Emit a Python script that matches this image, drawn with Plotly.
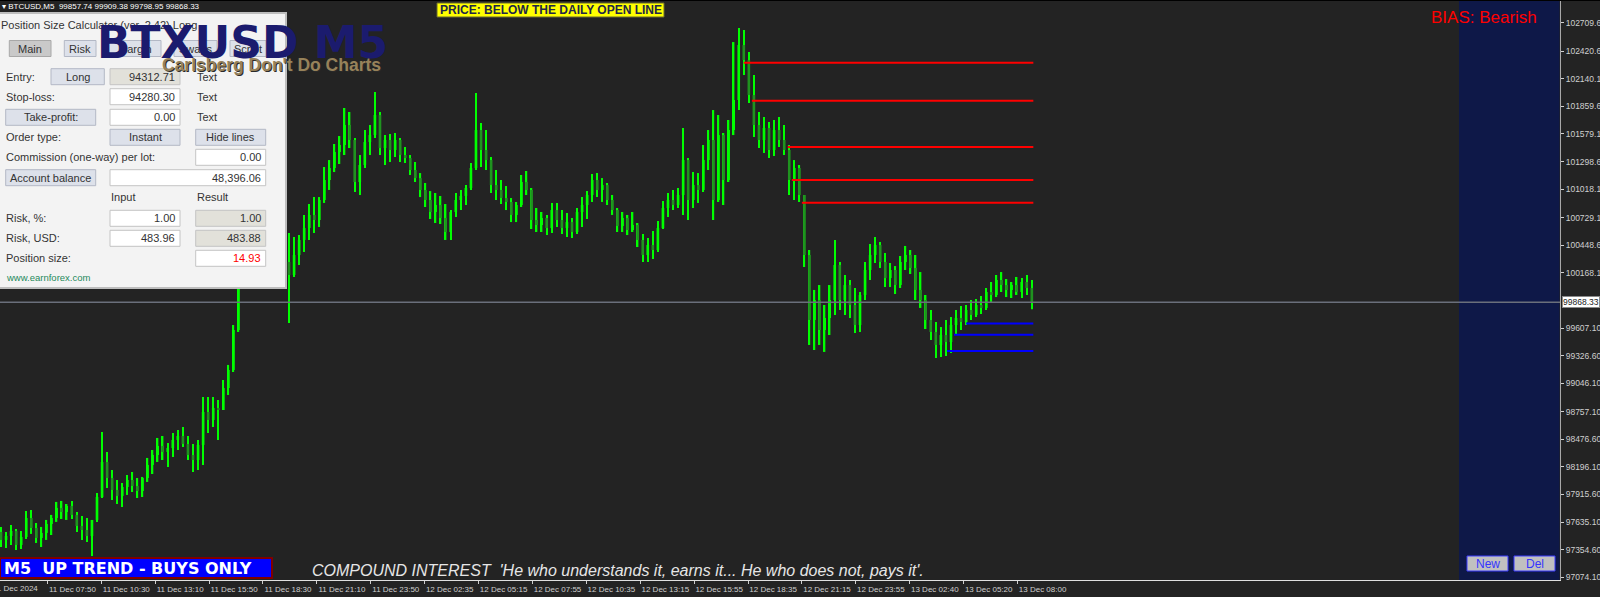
import plotly.graph_objects as go

# ------------------------------------------------------------------ data
# 15-minute OHLC bars of BTCUSD (11 Dec 05:30 -> 13 Dec 08:30)
open_ = [97535, 97454, 97494, 97545, 97403, 97484, 97677, 97575, 97474, 97525,
         97616, 97677, 97779, 97738, 97799, 97708, 97596, 97555, 97494, 97657,
         97890, 98246, 98083, 97962, 97901, 97992, 98063, 98002, 97951, 98083,
         98216, 98317, 98409, 98348, 98388, 98470, 98510, 98429, 98317, 98266,
         98419, 98754, 98673, 98795, 98774, 98998, 99181, 99587, 100044, 100278,
         100420, 100502, 100583, 100380, 100502, 100522, 100319, 100278, 100146, 100349,
         100502, 100623, 100756, 100705, 100908, 101111, 101233, 101396, 101467, 101670,
         101518, 101091, 101264, 101497, 101568, 101772, 101436, 101518, 101416, 101518,
         101365, 101335, 101213, 101131, 101010, 100908, 100786, 100857, 100725, 100583,
         100786, 100908, 100949, 101030, 101233, 101619, 101416, 101314, 101060, 101010,
         100928, 100888, 100756, 100857, 101091, 101010, 100705, 100654, 100725, 100623,
         100806, 100705, 100623, 100684, 100583, 100786, 100857, 100959, 101111, 101010,
         101060, 100908, 100806, 100644, 100725, 100603, 100654, 100502, 100349, 100451,
         100400, 100623, 100827, 100908, 100857, 100959, 101314, 100908, 101060, 101010,
         101314, 101518, 100908, 101568, 101111, 101619, 101924, 102483, 102330, 101975,
         101670, 101518, 101640, 101416, 101619, 101518, 101416, 101111, 101233, 100959,
         100349, 99689, 99892, 99587, 99709, 99892, 100248, 99892, 100044, 99841,
         99638, 99943, 100197, 100349, 100451, 100278, 100115, 100197, 100044, 100278,
         100349, 100217, 99994, 99892, 99689, 99567, 99435, 99536, 99465, 99638,
         99709, 99668, 99790, 99740, 99841, 99811, 99973, 99943, 100095, 100044,
         99994, 100044, 99973, 100075, 100014]
high = [97586, 97535, 97606, 97565, 97545, 97748, 97758, 97626, 97586, 97657,
        97708, 97840, 97850, 97819, 97850, 97738, 97697, 97677, 97606, 97931,
        98551, 98348, 98165, 98063, 98033, 98114, 98144, 98083, 98094, 98287,
        98368, 98490, 98510, 98439, 98541, 98571, 98602, 98510, 98429, 98470,
        98906, 98906, 98906, 98876, 99079, 99232, 99638, 100065, 100400, 100502,
        100623, 100654, 100603, 100603, 100684, 100583, 100552, 100573, 100532, 100552,
        100756, 100867, 100938, 100938, 101243, 101314, 101477, 101558, 101843, 101802,
        101538, 101365, 101619, 101670, 102005, 101802, 101568, 101579, 101589, 101538,
        101447, 101365, 101294, 101182, 101081, 100999, 100979, 100949, 100867, 100806,
        100979, 101010, 101060, 101284, 101995, 101690, 101619, 101345, 101213, 101111,
        101050, 100928, 100888, 101162, 101203, 101030, 100827, 100786, 100756, 100878,
        100878, 100806, 100776, 100725, 100827, 100938, 100999, 101172, 101182, 101131,
        101081, 100959, 100827, 100786, 100756, 100786, 100674, 100563, 100522, 100593,
        100695, 100898, 100979, 101010, 101030, 101640, 101335, 101192, 101182, 101467,
        101619, 101822, 101772, 101589, 101721, 102513, 102655, 102635, 102412, 102178,
        101802, 101751, 101700, 101721, 101751, 101670, 101467, 101314, 101264, 100959,
        100400, 99994, 100044, 99841, 100044, 100502, 100278, 100146, 100095, 100014,
        99973, 100278, 100461, 100532, 100481, 100369, 100268, 100237, 100339, 100441,
        100400, 100349, 100176, 99943, 99790, 99668, 99618, 99689, 99719, 99790,
        99831, 99841, 99892, 99902, 99933, 100014, 100075, 100146, 100176, 100105,
        100075, 100126, 100115, 100146, 100095]
low = [97382, 97372, 97403, 97352, 97362, 97464, 97515, 97423, 97382, 97454,
       97504, 97637, 97667, 97657, 97667, 97535, 97454, 97433, 97291, 97637,
       97880, 97982, 97860, 97819, 97789, 97911, 97941, 97880, 97890, 98043,
       98124, 98246, 98266, 98195, 98297, 98368, 98398, 98266, 98144, 98165,
       98216, 98541, 98602, 98470, 98774, 98927, 99160, 99567, 100024, 100176,
       100298, 100349, 100248, 100278, 100349, 100217, 100095, 99658, 100126, 100248,
       100380, 100502, 100573, 100634, 100878, 101010, 101192, 101274, 101365, 101436,
       100989, 100959, 101233, 101365, 101538, 101365, 101264, 101294, 101345, 101294,
       101284, 101162, 101091, 100938, 100837, 100715, 100674, 100664, 100502, 100502,
       100735, 100806, 100857, 101010, 101213, 101243, 101213, 100979, 100908, 100867,
       100806, 100684, 100684, 100837, 100959, 100613, 100583, 100583, 100552, 100573,
       100634, 100563, 100532, 100522, 100563, 100634, 100715, 100888, 100938, 100888,
       100857, 100756, 100583, 100583, 100552, 100583, 100430, 100278, 100278, 100309,
       100380, 100613, 100735, 100806, 100827, 100756, 100705, 100827, 100878, 100989,
       101213, 100705, 100888, 100857, 101091, 101568, 101822, 102178, 101893, 101548,
       101436, 101386, 101335, 101355, 101447, 101365, 100959, 100908, 100888, 100227,
       99435, 99384, 99435, 99364, 99536, 99740, 99790, 99740, 99709, 99557,
       99567, 99892, 100095, 100268, 100217, 100024, 100024, 99953, 100014, 100197,
       100156, 99892, 99811, 99597, 99486, 99303, 99313, 99323, 99353, 99547,
       99587, 99638, 99689, 99719, 99750, 99790, 99872, 99922, 99973, 99922,
       99912, 99943, 99912, 99943, 99799]
close = [97454, 97494, 97545, 97403, 97484, 97677, 97575, 97474, 97525, 97616,
         97677, 97779, 97738, 97799, 97708, 97596, 97555, 97494, 97657, 97890,
         98246, 98083, 97962, 97901, 97992, 98063, 98002, 97951, 98083, 98216,
         98317, 98409, 98348, 98388, 98470, 98510, 98429, 98317, 98266, 98419,
         98754, 98673, 98795, 98774, 98998, 99181, 99587, 100044, 100278, 100420,
         100502, 100583, 100380, 100502, 100522, 100319, 100278, 100146, 100349, 100502,
         100623, 100756, 100705, 100908, 101111, 101233, 101396, 101467, 101670, 101518,
         101091, 101264, 101497, 101568, 101772, 101436, 101518, 101416, 101518, 101365,
         101335, 101213, 101131, 101010, 100908, 100786, 100857, 100725, 100583, 100786,
         100908, 100949, 101030, 101233, 101619, 101416, 101314, 101060, 101010, 100928,
         100888, 100756, 100857, 101091, 101010, 100705, 100654, 100725, 100623, 100806,
         100705, 100623, 100684, 100583, 100786, 100857, 100959, 101111, 101010, 101060,
         100908, 100806, 100644, 100725, 100603, 100654, 100502, 100349, 100451, 100400,
         100623, 100827, 100908, 100857, 100959, 101314, 100908, 101060, 101010, 101314,
         101518, 100908, 101568, 101111, 101619, 101924, 102483, 102330, 101975, 101670,
         101518, 101640, 101416, 101619, 101518, 101416, 101111, 101233, 100959, 100349,
         99689, 99892, 99587, 99709, 99892, 100248, 99892, 100044, 99841, 99638,
         99943, 100197, 100349, 100451, 100278, 100115, 100197, 100044, 100278, 100349,
         100217, 99994, 99892, 99689, 99567, 99435, 99536, 99465, 99638, 99709,
         99668, 99790, 99740, 99841, 99811, 99973, 99943, 100095, 100044, 99994,
         100044, 99973, 100075, 100014, 99868.33]

time_labels = ["11 Dec 07:50", "11 Dec 10:30", "11 Dec 13:10", "11 Dec 15:50", "11 Dec 18:30",
               "11 Dec 21:10", "11 Dec 23:50", "12 Dec 02:35", "12 Dec 05:15", "12 Dec 07:55",
               "12 Dec 10:35", "12 Dec 13:15", "12 Dec 15:55", "12 Dec 18:35", "12 Dec 21:15",
               "12 Dec 23:55", "13 Dec 02:40", "13 Dec 05:20", "13 Dec 08:00"]
first_label = "11 Dec 2024"
price_ticks = [102709.6, 102420.6, 102140.1, 101859.6, 101579.1, 101298.6, 101018.1, 100729.1,
               100448.6, 100168.1, 99607.1, 99326.6, 99046.1, 98757.1, 98476.6, 98196.1,
               97915.6, 97635.1, 97354.6, 97074.1]
last_price = 99868.33
resist_levels = [102303, 101917, 101446, 101111, 100881]
resist_from_bar = [147.0, 148.6, 155.7, 156.5, 158.5]
support_levels = [99653, 99539, 99374]
support_from_bar = [191.0, 188.6, 187.2]
levels_to_bar = 204.3

# ------------------------------------------------------------------ geometry
W, H = 1600, 597
PW, PH = 1560, 580            # plot area in pixels
BAR_PX = 5.053                # pixels per bar
X0 = -1 / BAR_PX
XR = [X0, X0 + PW / BAR_PX]
YR = [97046.7, 102940.3]
TICK0, TICK_STEP = 9.18, 10.667
FONT = "Liberation Sans, Arial, sans-serif"
BG = "#232323"
LIME = "#00ff00"
DARK = "#1f931f"


def px(x):
    return x / PW


def py(y):
    return 1 - y / PH


idx = list(range(len(close)))
fig = go.Figure()
fig.add_trace(go.Bar(x=idx, base=low, y=[h - l for h, l in zip(high, low)], width=0.28,
                     marker=dict(color=LIME, line=dict(width=0)), hoverinfo="skip"))
fig.add_trace(go.Bar(x=idx, base=[min(o, c) for o, c in zip(open_, close)],
                     y=[max(abs(c - o), 10) for o, c in zip(open_, close)], width=0.52,
                     marker=dict(color=[LIME if c >= o else DARK for o, c in zip(open_, close)],
                                 line=dict(width=0)), hoverinfo="skip"))
for lvl, b in zip(resist_levels, resist_from_bar):
    fig.add_trace(go.Scatter(x=[b, levels_to_bar], y=[lvl, lvl], mode="lines",
                             line=dict(color="#ff0000", width=2), hoverinfo="skip"))
for lvl, b in zip(support_levels, support_from_bar):
    fig.add_trace(go.Scatter(x=[b, levels_to_bar], y=[lvl, lvl], mode="lines",
                             line=dict(color="#0000ff", width=2), hoverinfo="skip"))

shapes = []
annots = []


def rect(x0, y0, x1, y1, fill, line=None, lw=1, layer="above"):
    shapes.append(dict(type="rect", xref="paper", yref="paper", x0=px(x0), x1=px(x1),
                       y0=py(y1), y1=py(y0), fillcolor=fill, layer=layer,
                       line=dict(color=line or fill, width=lw if line else 0)))


def text(x, y, s, size=11, color="#333333", anchor="left", family=FONT, bg=None, border=None):
    a = dict(x=px(x), y=py(y), xref="paper", yref="paper", text=s, showarrow=False,
             xanchor=anchor, yanchor="middle", font=dict(size=size, color=color, family=family),
             borderpad=0)
    if bg:
        a["bgcolor"] = bg
    if border:
        a["bordercolor"] = border
        a["borderwidth"] = 1
    annots.append(a)


# right-side navy panel + price line
rect(1459, 0, 1559.5, 580, "#0e1848", layer="below")
shapes.append(dict(type="line", xref="paper", yref="y", x0=0, x1=1, y0=last_price, y1=last_price,
                   line=dict(color="#6a6f7b", width=1.5), layer="above"))
shapes.append(dict(type="line", xref="paper", yref="paper", x0=0, x1=1.03, y0=1, y1=1,
                   line=dict(color="#000000", width=2), layer="above"))

# ---- Position size calculator panel
rect(-3, 13, 286, 288, "#f3f3f3", "#bdbdbd", 2)
BTN, BTN_L = "#dde1ea", "#b3b8c5"
GRAY, WHITE, FL = "#e2e1da", "#ffffff", "#c4c4c4"
tabs = [(9.3, 51, "Main"), (64.3, 96, "Risk"), (108, 161, "Margin"), (174, 217, "Swaps"), (230, 266, "Script")]
for i, (a, b, s) in enumerate(tabs):
    rect(a, 40.5, b, 56.5, "#c9c9c9" if i == 0 else BTN, "#a8a8a8" if i == 0 else BTN_L)
    text((a + b) / 2, 48.5, s, anchor="center")
buttons = [(51, 104.3, 76.7, "Long"), (5.7, 95.7, 117.3, "Take-profit:"), (110, 180, 137.3, "Instant"),
           (195.7, 265.7, 137.3, "Hide lines"), (5.7, 95.7, 177.7, "Account balance")]
for a, b, yc, s in buttons:
    rect(a, yc - 8, b, yc + 8, BTN, BTN_L)
    text((a + b) / 2, yc, s, anchor="center")
fields = [(110, 180, 76.7, "94312.71", GRAY, "#333333"), (110, 180, 96.7, "94280.30", WHITE, "#333333"),
          (110, 180, 117.3, "0.00", WHITE, "#333333"), (195.7, 265.7, 157.3, "0.00", WHITE, "#333333"),
          (110, 265.7, 177.7, "48,396.06", WHITE, "#333333"), (110, 180, 218.3, "1.00", WHITE, "#333333"),
          (195.7, 265.7, 218.3, "1.00", GRAY, "#333333"), (110, 180, 238.3, "483.96", WHITE, "#333333"),
          (195.7, 265.7, 238.3, "483.88", GRAY, "#333333"), (195.7, 265.7, 258.3, "14.93", WHITE, "#ff0000")]
for a, b, yc, s, f, c in fields:
    rect(a, yc - 8, b, yc + 8, f, FL)
    text(b - 4, yc, s, color=c, anchor="right")
labels = [(5, 76.7, "Entry:"), (5, 96.7, "Stop-loss:"), (5, 137.3, "Order type:"),
          (5, 157.3, "Commission (one-way) per lot:"), (110, 197.3, "Input"), (195.7, 197.3, "Result"),
          (5, 218.3, "Risk, %:"), (5, 238.3, "Risk, USD:"), (5, 258.3, "Position size:"),
          (195.7, 76.7, "Text"), (195.7, 96.7, "Text"), (195.7, 117.3, "Text")]
for x, y, s in labels:
    text(x, y, s)
text(0, 24.5, "Position Size Calculator (ver. 2.42) Long", size=11)
text(5, 277.3, "www.earnforex.com", size=9.5, color="#1f8a5c")

# ---- overlay titles
text(242, 43, "<b>BTXUSD M5</b>", size=44, color="#1b1b6e", anchor="center", family="DejaVu Sans")
text(272.5, 66.5, "<b>Carlsberg Don't Do Charts</b>", size=17.5, color="#2a2a2a", anchor="center")
text(271, 65, "<b>Carlsberg Don't Do Charts</b>", size=17.5, color="#97825a", anchor="center")
text(1, 6, "\u25be BTCUSD,M5\u00a0 99857.74 99909.38 99798.95 99868.33", size=8, color="#ffffff")
rect(437, 3, 664, 17, "#ffff00", "#6b6b30")
text(550.5, 10.3, "<b>PRICE: BELOW THE DAILY OPEN LINE</b>", size=12, color="#22264a", anchor="center")
text(1483.5, 18, "BIAS: Bearish", size=17, color="#ff0000", anchor="center")

# ---- bottom labels
rect(0, 558, 272, 578, "#0000ff", "#800000", 2)
text(3, 568.5, "<b>M5\u00a0 UP TREND - BUYS ONLY</b>", size=16, color="#ffffff", family="DejaVu Sans")
text(311, 570.5, "<i>COMPOUND INTEREST\u00a0 'He who understands it, earns it... He who does not, pays it'.</i>",
     size=16, color="#e6e6e6")
for a, b, s in [(1467, 1508, "New"), (1514, 1555, "Del")]:
    rect(a, 556, b, 571, "#c0c0c0", "#3a3aff")
    text((a + b) / 2, 563.5, s, size=12, color="#3535ff", anchor="center")

# ---- axis extras
annots.append(dict(x=1, y=last_price, xref="paper", yref="y", xshift=1.5, text="99868.33",
                   showarrow=False, xanchor="left", yanchor="middle", borderpad=0,
                   font=dict(size=8.5, color="#222222", family=FONT), bgcolor="#ffffff",
                   bordercolor="#8a8a8a", borderwidth=1))
text(38.6, 588.5, first_label, size=8, color="#cfcfcf", anchor="right")

fig.update_layout(
    width=W, height=H, margin=dict(l=0, r=W - PW, t=0, b=H - PH, pad=0, autoexpand=False),
    paper_bgcolor=BG, plot_bgcolor=BG, showlegend=False, barmode="overlay",
    font=dict(family=FONT), shapes=shapes, annotations=annots,
    xaxis=dict(range=XR, showgrid=False, zeroline=False, showline=True, linecolor="#e0e0e0",
               linewidth=1, ticks="outside", ticklen=3, tickcolor="#cfcfcf", automargin=False,
               tickvals=[TICK0 + TICK_STEP * k for k in range(len(time_labels))],
               ticktext=time_labels, tickfont=dict(size=8, color="#cfcfcf"), ticklabelshift=25,
               ticklabelstandoff=-2, fixedrange=True),
    yaxis=dict(range=YR, side="right", showgrid=False, zeroline=False, showline=True,
               linecolor="#a8a8a8", linewidth=1, ticks="outside", ticklen=3, tickcolor="#cfcfcf",
               automargin=False, tickvals=price_ticks, ticktext=[f"{v:.2f}" for v in price_ticks],
               tickfont=dict(size=8.5, color="#cfcfcf"), fixedrange=True),
)
fig.write_html("out.html", config={"displayModeBar": False},
               post_script="document.body.style.margin='0';document.body.style.overflow='hidden';"
                           "document.body.style.background='#232323';")
